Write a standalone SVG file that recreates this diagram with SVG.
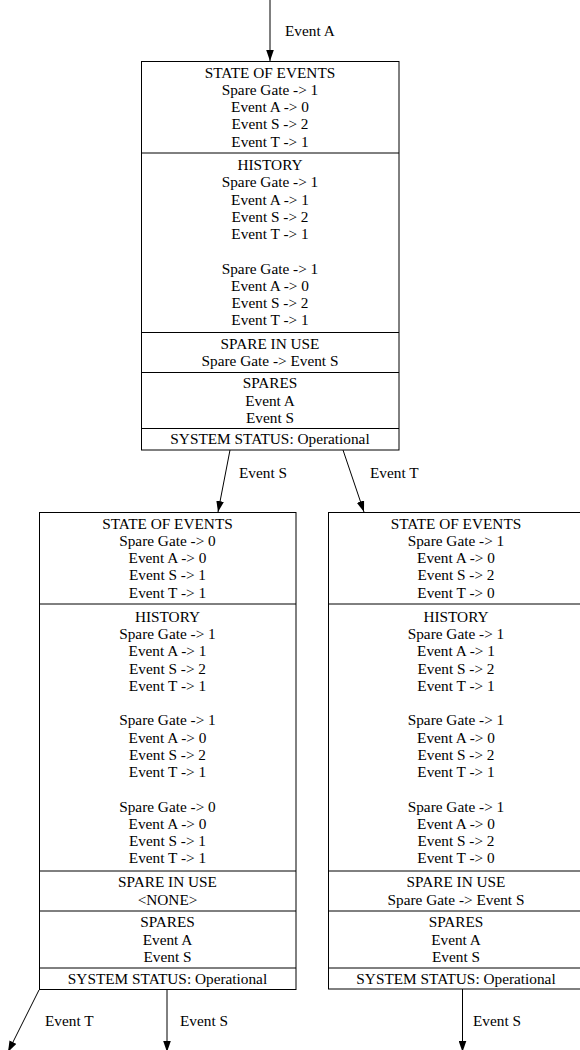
<svg xmlns="http://www.w3.org/2000/svg" width="580" height="1050" viewBox="0 0 580 1050">
<style>
text{font-family:"Liberation Serif","Times New Roman",serif;font-size:15.3px;fill:#000}
.c{text-anchor:middle}
.box{fill:#fff;stroke:#000;stroke-width:1}
.sep{stroke:#000;stroke-width:1}
.edge{stroke:#000;stroke-width:1;fill:none}
</style>
<defs>
<marker id="ah" markerUnits="userSpaceOnUse" markerWidth="11" markerHeight="8" viewBox="0 0 10.4 7.2" refX="10.4" refY="3.6" orient="auto">
<path d="M0,0 L10.4,3.6 L0,7.2 z" fill="#000"/>
</marker>
</defs>
<rect width="580" height="1050" fill="#fff"/>

<g id="connectors">
<line class="edge" x1="270" y1="0" x2="270" y2="61" marker-end="url(#ah)"/>
<text x="285" y="36">Event A</text>
<line class="edge" x1="230" y1="450" x2="218" y2="512" marker-end="url(#ah)"/>
<text x="239" y="478">Event S</text>
<line class="edge" x1="343" y1="450" x2="364" y2="512" marker-end="url(#ah)"/>
<text x="370" y="478">Event T</text>
<line class="edge" x1="39" y1="990" x2="8" y2="1052" marker-end="url(#ah)"/>
<text x="45" y="1026">Event T</text>
<line class="edge" x1="167" y1="990" x2="167" y2="1052" marker-end="url(#ah)"/>
<text x="180" y="1026">Event S</text>
<line class="edge" x1="462.5" y1="989" x2="462.5" y2="1052" marker-end="url(#ah)"/>
<text x="473" y="1026">Event S</text>
</g>

<g id="node-top">
<rect class="box" x="141.5" y="61.5" width="257.5" height="388.5"/>
<line class="sep" x1="141.5" y1="153" x2="399" y2="153"/>
<line class="sep" x1="141.5" y1="332.5" x2="399" y2="332.5"/>
<line class="sep" x1="141.5" y1="372.5" x2="399" y2="372.5"/>
<line class="sep" x1="141.5" y1="428.5" x2="399" y2="428.5"/>
<text class="c" x="270" y="77.5">STATE OF EVENTS</text>
<text class="c" x="270" y="94.75">Spare Gate -&gt; 1</text>
<text class="c" x="270" y="112">Event A -&gt; 0</text>
<text class="c" x="270" y="129.25">Event S -&gt; 2</text>
<text class="c" x="270" y="146.5">Event T -&gt; 1</text>
<text class="c" x="270" y="170.1">HISTORY</text>
<text class="c" x="270" y="187.35">Spare Gate -&gt; 1</text>
<text class="c" x="270" y="204.6">Event A -&gt; 1</text>
<text class="c" x="270" y="221.85">Event S -&gt; 2</text>
<text class="c" x="270" y="239.1">Event T -&gt; 1</text>
<text class="c" x="270" y="273.6">Spare Gate -&gt; 1</text>
<text class="c" x="270" y="290.85">Event A -&gt; 0</text>
<text class="c" x="270" y="308.1">Event S -&gt; 2</text>
<text class="c" x="270" y="325.35">Event T -&gt; 1</text>
<text class="c" x="270" y="348.9">SPARE IN USE</text>
<text class="c" x="270" y="366.1">Spare Gate -&gt; Event S</text>
<text class="c" x="270" y="388.25">SPARES</text>
<text class="c" x="270" y="405.5">Event A</text>
<text class="c" x="270" y="422.75">Event S</text>
<text class="c" x="270" y="444">SYSTEM STATUS: Operational</text>
</g>

<g id="node-left">
<rect class="box" x="39.5" y="512.5" width="256.5" height="477"/>
<line class="sep" x1="39.5" y1="604" x2="296" y2="604"/>
<line class="sep" x1="39.5" y1="871" x2="296" y2="871"/>
<line class="sep" x1="39.5" y1="911" x2="296" y2="911"/>
<line class="sep" x1="39.5" y1="968" x2="296" y2="968"/>
<text class="c" x="167.5" y="528.5">STATE OF EVENTS</text>
<text class="c" x="167.5" y="545.75">Spare Gate -&gt; 0</text>
<text class="c" x="167.5" y="563">Event A -&gt; 0</text>
<text class="c" x="167.5" y="580.25">Event S -&gt; 1</text>
<text class="c" x="167.5" y="597.5">Event T -&gt; 1</text>
<text class="c" x="167.5" y="621.75">HISTORY</text>
<text class="c" x="167.5" y="639">Spare Gate -&gt; 1</text>
<text class="c" x="167.5" y="656.25">Event A -&gt; 1</text>
<text class="c" x="167.5" y="673.5">Event S -&gt; 2</text>
<text class="c" x="167.5" y="690.75">Event T -&gt; 1</text>
<text class="c" x="167.5" y="725.25">Spare Gate -&gt; 1</text>
<text class="c" x="167.5" y="742.5">Event A -&gt; 0</text>
<text class="c" x="167.5" y="759.75">Event S -&gt; 2</text>
<text class="c" x="167.5" y="777">Event T -&gt; 1</text>
<text class="c" x="167.5" y="811.5">Spare Gate -&gt; 0</text>
<text class="c" x="167.5" y="828.75">Event A -&gt; 0</text>
<text class="c" x="167.5" y="846">Event S -&gt; 1</text>
<text class="c" x="167.5" y="863.25">Event T -&gt; 1</text>
<text class="c" x="167.5" y="887.4">SPARE IN USE</text>
<text class="c" x="167.5" y="904.6">&lt;NONE&gt;</text>
<text class="c" x="167.5" y="927.25">SPARES</text>
<text class="c" x="167.5" y="944.5">Event A</text>
<text class="c" x="167.5" y="961.75">Event S</text>
<text class="c" x="167.5" y="984">SYSTEM STATUS: Operational</text>
</g>

<g id="node-right">
<rect class="box" x="328.5" y="512.5" width="256" height="476.5"/>
<line class="sep" x1="328.5" y1="604" x2="584.5" y2="604"/>
<line class="sep" x1="328.5" y1="871" x2="584.5" y2="871"/>
<line class="sep" x1="328.5" y1="911" x2="584.5" y2="911"/>
<line class="sep" x1="328.5" y1="968" x2="584.5" y2="968"/>
<text class="c" x="456" y="528.5">STATE OF EVENTS</text>
<text class="c" x="456" y="545.75">Spare Gate -&gt; 1</text>
<text class="c" x="456" y="563">Event A -&gt; 0</text>
<text class="c" x="456" y="580.25">Event S -&gt; 2</text>
<text class="c" x="456" y="597.5">Event T -&gt; 0</text>
<text class="c" x="456" y="621.75">HISTORY</text>
<text class="c" x="456" y="639">Spare Gate -&gt; 1</text>
<text class="c" x="456" y="656.25">Event A -&gt; 1</text>
<text class="c" x="456" y="673.5">Event S -&gt; 2</text>
<text class="c" x="456" y="690.75">Event T -&gt; 1</text>
<text class="c" x="456" y="725.25">Spare Gate -&gt; 1</text>
<text class="c" x="456" y="742.5">Event A -&gt; 0</text>
<text class="c" x="456" y="759.75">Event S -&gt; 2</text>
<text class="c" x="456" y="777">Event T -&gt; 1</text>
<text class="c" x="456" y="811.5">Spare Gate -&gt; 1</text>
<text class="c" x="456" y="828.75">Event A -&gt; 0</text>
<text class="c" x="456" y="846">Event S -&gt; 2</text>
<text class="c" x="456" y="863.25">Event T -&gt; 0</text>
<text class="c" x="456" y="887.4">SPARE IN USE</text>
<text class="c" x="456" y="904.6">Spare Gate -&gt; Event S</text>
<text class="c" x="456" y="927.25">SPARES</text>
<text class="c" x="456" y="944.5">Event A</text>
<text class="c" x="456" y="961.75">Event S</text>
<text class="c" x="456" y="984">SYSTEM STATUS: Operational</text>
</g>
</svg>
